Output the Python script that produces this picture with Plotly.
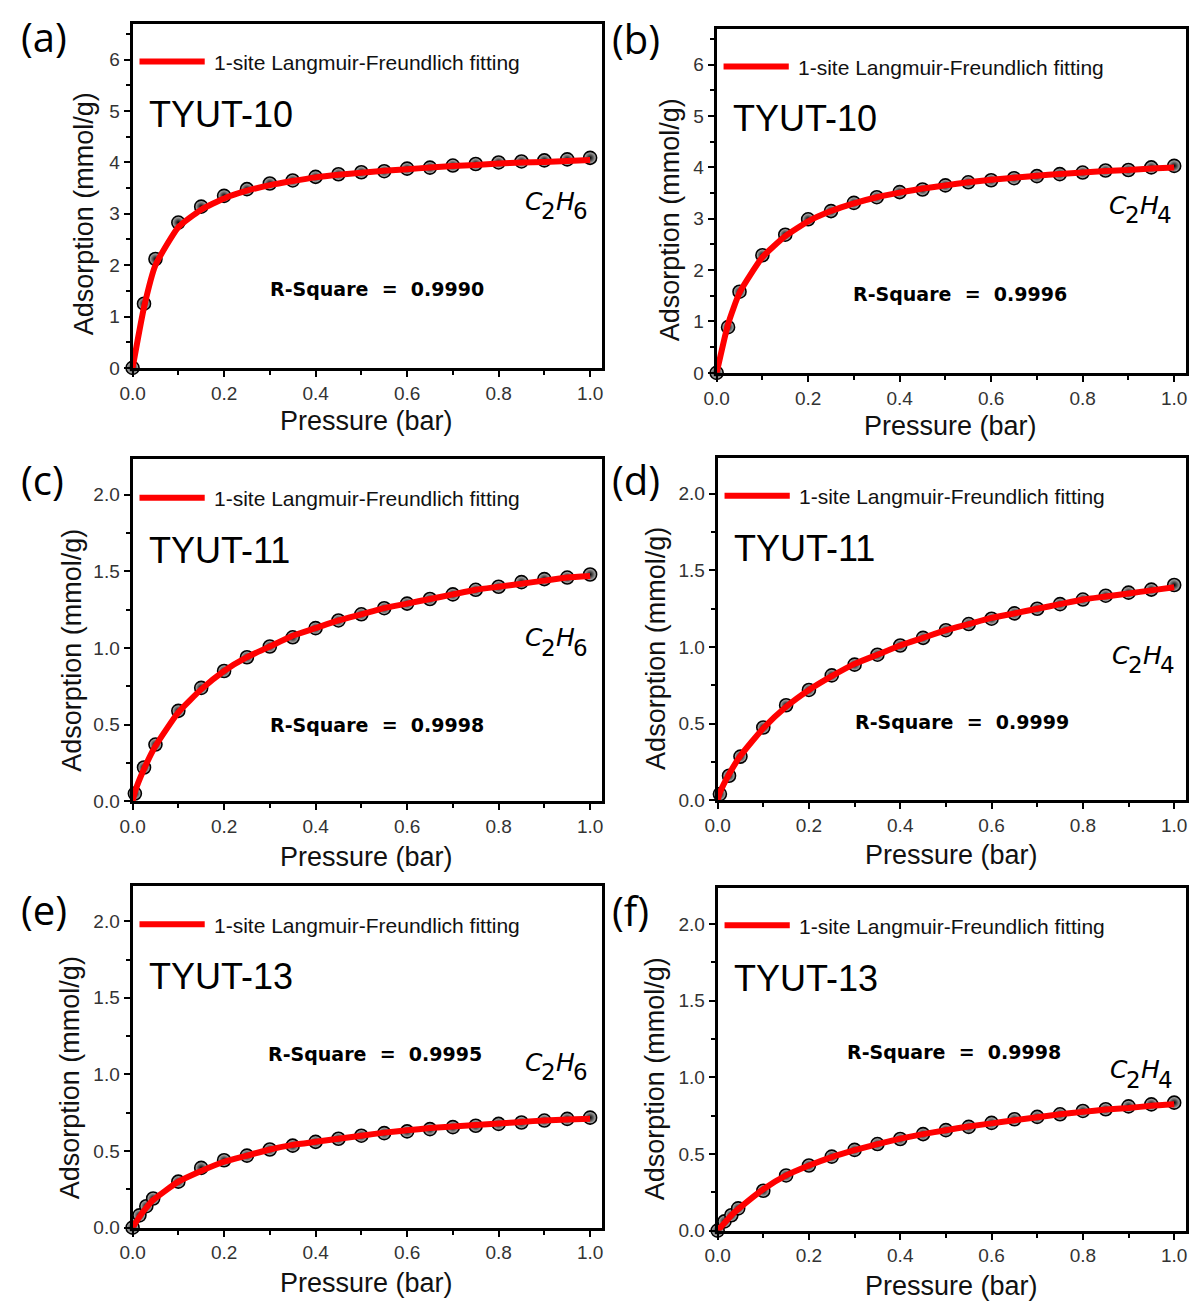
import plotly.graph_objects as go

# ---------------------------------------------------------------------------
# Adsorption isotherms (298 K) and 1-site Langmuir-Freundlich fits
# ---------------------------------------------------------------------------

# TYUT-10, C2H6
p_a = [0, 0.025, 0.05, 0.1, 0.15, 0.2, 0.25, 0.3, 0.35, 0.4, 0.45, 0.5,
       0.55, 0.6, 0.65, 0.7, 0.75, 0.8, 0.85, 0.9, 0.95, 1.0]
q_a = [0, 1.25, 2.12, 2.83, 3.14, 3.35, 3.48, 3.59, 3.65, 3.72, 3.77, 3.81,
       3.83, 3.88, 3.90, 3.94, 3.97, 4.00, 4.02, 4.04, 4.06, 4.09]
fit_a = [0, 1.18, 2.0, 2.74, 3.08, 3.30, 3.45, 3.56, 3.64, 3.71, 3.76, 3.80,
         3.84, 3.87, 3.90, 3.93, 3.95, 3.98, 4.00, 4.01, 4.03, 4.05]

# TYUT-10, C2H4
p_b = [0, 0.025, 0.05, 0.1, 0.15, 0.2, 0.25, 0.3, 0.35, 0.4, 0.45, 0.5,
       0.55, 0.6, 0.65, 0.7, 0.75, 0.8, 0.85, 0.9, 0.95, 1.0]
q_b = [0, 0.89, 1.58, 2.29, 2.69, 2.99, 3.15, 3.31, 3.42, 3.52, 3.57, 3.65,
       3.71, 3.75, 3.79, 3.83, 3.87, 3.90, 3.94, 3.95, 4.00, 4.03]
fit_b = [0, 0.95, 1.56, 2.25, 2.66, 2.95, 3.15, 3.30, 3.42, 3.51, 3.59, 3.65,
         3.71, 3.76, 3.80, 3.84, 3.87, 3.90, 3.93, 3.95, 3.98, 4.00]

# TYUT-11, C2H6
p_c = [0.005, 0.025, 0.05, 0.1, 0.15, 0.2, 0.25, 0.3, 0.35, 0.4, 0.45, 0.5,
       0.55, 0.6, 0.65, 0.7, 0.75, 0.8, 0.85, 0.9, 0.95, 1.0]
q_c = [0.05, 0.22, 0.37, 0.59, 0.74, 0.85, 0.94, 1.01, 1.07, 1.13, 1.18, 1.22,
       1.26, 1.29, 1.32, 1.35, 1.38, 1.40, 1.43, 1.45, 1.46, 1.48]
pf_c = [0, 0.005, 0.025, 0.05, 0.1, 0.15, 0.2, 0.25, 0.3, 0.35, 0.4, 0.45,
        0.5, 0.55, 0.6, 0.65, 0.7, 0.75, 0.8, 0.85, 0.9, 0.95, 1.0]
fit_c = [0, 0.06, 0.21, 0.36, 0.58, 0.73, 0.85, 0.94, 1.01, 1.08, 1.13, 1.18,
         1.22, 1.26, 1.29, 1.32, 1.35, 1.38, 1.40, 1.42, 1.44, 1.46, 1.47]

# TYUT-11, C2H4
p_d = [0.005, 0.025, 0.05, 0.1, 0.15, 0.2, 0.25, 0.3, 0.35, 0.4, 0.45, 0.5,
       0.55, 0.6, 0.65, 0.7, 0.75, 0.8, 0.85, 0.9, 0.95, 1.0]
q_d = [0.04, 0.16, 0.285, 0.475, 0.62, 0.72, 0.815, 0.885, 0.95, 1.01, 1.06,
       1.11, 1.15, 1.185, 1.22, 1.25, 1.28, 1.31, 1.335, 1.355, 1.375, 1.405]
pf_d = [0, 0.005, 0.025, 0.05, 0.1, 0.15, 0.2, 0.25, 0.3, 0.35, 0.4, 0.45,
        0.5, 0.55, 0.6, 0.65, 0.7, 0.75, 0.8, 0.85, 0.9, 0.95, 1.0]
fit_d = [0, 0.05, 0.17, 0.29, 0.47, 0.61, 0.72, 0.81, 0.89, 0.95, 1.01, 1.06,
         1.11, 1.15, 1.19, 1.22, 1.25, 1.28, 1.31, 1.33, 1.35, 1.37, 1.39]

# TYUT-13, C2H6
p_e = [0, 0.015, 0.03, 0.045, 0.1, 0.15, 0.2, 0.25, 0.3, 0.35, 0.4, 0.45,
       0.5, 0.55, 0.6, 0.65, 0.7, 0.75, 0.8, 0.85, 0.9, 0.95, 1.0]
q_e = [0, 0.08, 0.14, 0.19, 0.30, 0.39, 0.44, 0.47, 0.51, 0.535, 0.56, 0.58,
       0.60, 0.617, 0.628, 0.643, 0.656, 0.665, 0.677, 0.686, 0.699, 0.71, 0.718]
fit_e = [0, 0.07, 0.13, 0.18, 0.30, 0.37, 0.43, 0.47, 0.51, 0.54, 0.56, 0.58,
         0.60, 0.62, 0.635, 0.65, 0.66, 0.67, 0.68, 0.69, 0.70, 0.705, 0.71]

# TYUT-13, C2H4
p_f = [0, 0.015, 0.03, 0.045, 0.1, 0.15, 0.2, 0.25, 0.3, 0.35, 0.4, 0.45,
       0.5, 0.55, 0.6, 0.65, 0.7, 0.75, 0.8, 0.85, 0.9, 0.95, 1.0]
q_f = [0, 0.06, 0.10, 0.145, 0.26, 0.36, 0.425, 0.483, 0.527, 0.565, 0.598,
       0.63, 0.656, 0.677, 0.703, 0.727, 0.742, 0.759, 0.781, 0.792, 0.811,
       0.824, 0.835]
fit_f = [0, 0.05, 0.10, 0.14, 0.27, 0.36, 0.425, 0.48, 0.525, 0.565, 0.60,
         0.63, 0.655, 0.68, 0.70, 0.72, 0.74, 0.76, 0.775, 0.79, 0.80, 0.815,
         0.825]

panel_tags = ["(a)", "(b)", "(c)", "(d)", "(e)", "(f)"]
materials = ["TYUT-10", "TYUT-10", "TYUT-11", "TYUT-11", "TYUT-13", "TYUT-13"]
# gas formula pieces: (main, subscript) pairs
gas_c2h6 = [("C", "2"), ("H", "6")]
gas_c2h4 = [("C", "2"), ("H", "4")]
gases = [gas_c2h6, gas_c2h4] * 3
r_square = ["0.9990", "0.9996", "0.9998", "0.9999", "0.9995", "0.9998"]
legend_text = "1-site Langmuir-Freundlich fitting"
x_title = "Pressure (bar)"
y_title = "Adsorption (mmol/g)"

points_x = [p_a, p_b, p_c, p_d, p_e, p_f]
points_y = [q_a, q_b, q_c, q_d, q_e, q_f]
fits_x = [p_a, p_b, pf_c, pf_d, p_e, p_f]
fits_y = [fit_a, fit_b, fit_c, fit_d, fit_e, fit_f]

# ---------------------------------------------------------------------------
# Page geometry (pixels)
# ---------------------------------------------------------------------------
W, H = 1192, 1313
# plot-area boxes: left, top, right, bottom
boxes = [
    (121, 24, 596, 371),
    (712, 29, 1187, 376),
    (121, 463, 596, 808),
    (713, 462, 1187, 807),
    (121, 893, 596, 1238),
    (713, 896, 1187, 1241),
]
y_max = [6.7, 6.7, 2.233, 2.233, 2.233, 2.233]
y_dtick = [1, 1, 0.5, 0.5, 0.5, 0.5]
y_fmt = ["d", "d", ".1f", ".1f", ".1f", ".1f"]

tag_pos = [(6, 37), (604, 39), (6, 484), (604, 484), (6, 917), (604, 918)]
legend_y = [62, 67, 502, 500, 932, 933]
material_y = [115, 120, 555, 553, 985, 987]
gas_pos = [(517, 203), (1108, 207), (517, 643), (1111, 661), (517, 1071), (1109, 1079)]
rsq_pos = [(258, 291), (848, 296), (258, 731), (850, 728), (256, 1063), (842, 1061)]
ytitle_pos = [(72, 216), (665, 222), (59, 656), (650, 654), (58, 1087), (650, 1088)]
xtitle_y = [425, 430, 864, 862, 1294, 1297]


def fx(x):
    return x / W


def fy(y):
    return 1 - y / H


fig = go.Figure()
layout = {}
annotations = []
shapes = []

AX_FONT = "Liberation Sans, Arial, sans-serif"
LABEL_FONT = "DejaVu Sans"


def text_at(x, y, text, size, family=AX_FONT, color="#000", xanchor="left",
            angle=0, weight="normal", style="normal"):
    annotations.append(dict(
        xref="paper", yref="paper", x=fx(x), y=fy(y), xanchor=xanchor,
        yanchor="middle", showarrow=False, text=text, textangle=angle,
        font=dict(family=family, size=size, color=color, weight=weight,
                  style=style)))


for i in range(6):
    n = "" if i == 0 else str(i + 1)
    xa, ya = "x" + n, "y" + n
    l, t, r, b = boxes[i]

    # measured points: shaded spheres
    fig.add_trace(go.Scatter(
        x=points_x[i], y=points_y[i], xaxis=xa, yaxis=ya, mode="markers",
        marker=dict(size=13, color="#c4c4c4",
                    gradient=dict(type="radial", color="#000000"),
                    line=dict(color="#000000", width=1.6)),
        cliponaxis=False, showlegend=False, name=materials[i]))
    # model curve on top
    fig.add_trace(go.Scatter(
        x=fits_x[i], y=fits_y[i], xaxis=xa, yaxis=ya, mode="lines",
        line=dict(color="#ff0000", width=6, shape="spline", smoothing=0.5),
        cliponaxis=False, showlegend=False, name=legend_text))

    layout["xaxis" + n] = dict(
        domain=[fx(l), fx(r)], anchor=ya, range=[0, 1.026],
        tickmode="linear", tick0=0, dtick=0.2, tickformat=".1f",
        ticks="outside", ticklen=6, tickwidth=2, tickcolor="#000",
        minor=dict(dtick=0.1, ticks="outside", ticklen=4, tickwidth=2,
                   tickcolor="#000"),
        showline=True, linewidth=3, linecolor="#000", mirror=True,
        showgrid=False, zeroline=False,
        tickfont=dict(family=AX_FONT, size=19, color="#333"))
    layout["yaxis" + n] = dict(
        domain=[fy(b), fy(t)], anchor=xa, range=[0, y_max[i]],
        tickmode="linear", tick0=0, dtick=y_dtick[i], tickformat=y_fmt[i],
        ticks="outside", ticklen=6, tickwidth=2, tickcolor="#000",
        minor=dict(dtick=y_dtick[i] / 2, ticks="outside", ticklen=4,
                   tickwidth=2, tickcolor="#000"),
        showline=True, linewidth=3, linecolor="#000", mirror=True,
        showgrid=False, zeroline=False,
        tickfont=dict(family=AX_FONT, size=19, color="#333"))

    # legend sample line and text
    shapes.append(dict(type="line", xref="paper", yref="paper",
                       x0=fx(l + 7), x1=fx(l + 73),
                       y0=fy(legend_y[i]), y1=fy(legend_y[i]),
                       line=dict(color="#ff0000", width=6)))
    text_at(l + 80, legend_y[i] + 1, legend_text, 21, color="#111")

    # material name
    text_at(l + 15, material_y[i], materials[i], 36)

    # gas formula, subscripts drawn nearly full size and dropped
    gx, gy = gas_pos[i]
    (m1, s1), (m2, s2) = gases[i]
    text_at(gx - 1, gy, m1, 25, family=LABEL_FONT, style="italic")
    text_at(gx + 15, gy + 10, s1, 23, family=LABEL_FONT)
    text_at(gx + 30, gy, m2, 25, family=LABEL_FONT, style="italic")
    text_at(gx + 48, gy + 10, s2, 23, family=LABEL_FONT)

    # goodness of fit
    text_at(rsq_pos[i][0], rsq_pos[i][1], "R-Square  =  " + r_square[i], 19,
            family=LABEL_FONT, weight="bold")

    # panel tag
    text_at(tag_pos[i][0], tag_pos[i][1], panel_tags[i], 40,
            family="Open Sans, Noto Sans, sans-serif")

    # axis titles
    text_at(l + 237, xtitle_y[i], x_title, 27, color="#111", xanchor="center")
    text_at(ytitle_pos[i][0], ytitle_pos[i][1], y_title, 27, color="#111",
            xanchor="center", angle=-90)

fig.update_layout(
    width=W, height=H, margin=dict(l=0, r=0, t=0, b=0),
    paper_bgcolor="white", plot_bgcolor="white",
    showlegend=False, annotations=annotations, shapes=shapes, **layout)

fig.write_html("out.html")
